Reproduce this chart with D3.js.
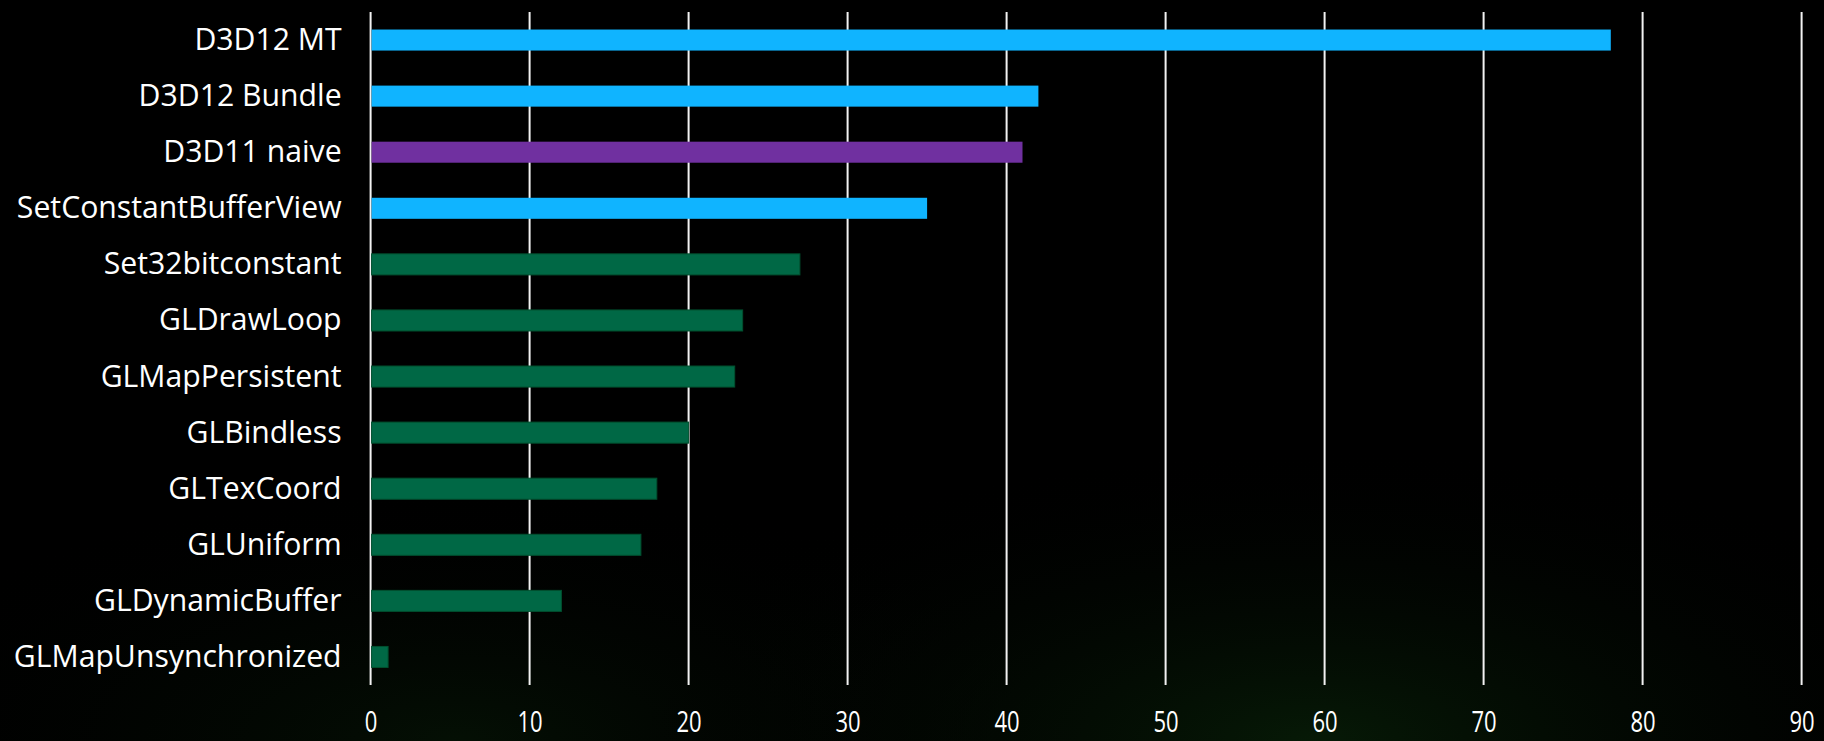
<!DOCTYPE html>
<html>
<head>
<meta charset="utf-8">
<script src="https://cdn.jsdelivr.net/npm/d3@7"></script>
<style>
  html, body { margin: 0; padding: 0; background: #000; }
  svg { display: block; }
</style>
</head>
<body>
<svg id="chart" width="1824" height="741"></svg>
<script>
const categories = ["D3D12 MT", "D3D12 Bundle", "D3D11 naive", "SetConstantBufferView",
  "Set32bitconstant", "GLDrawLoop", "GLMapPersistent", "GLBindless", "GLTexCoord",
  "GLUniform", "GLDynamicBuffer", "GLMapUnsynchronized"];
const values = [78, 42, 41, 35, 27, 23.4, 22.9, 20, 18, 17, 12, 1.1];
const groups = ["d3d12", "d3d12", "d3d11", "d3d12", "gl", "gl", "gl", "gl", "gl", "gl", "gl", "gl"];
const tickValues = [0, 10, 20, 30, 40, 50, 60, 70, 80, 90];

const groupColor = { d3d12: "#10b4ff", d3d11: "#7030a0", gl: "#006845" };
const groupStroke = { d3d12: "none", d3d11: "none", gl: "#00502f" };

const W = 1824, H = 741;
const margin = { left: 370.6, right: 22.4, top: 12, bottom: 56 };

const svg = d3.select("#chart");

// background with faint green glow at the bottom
const defs = svg.append("defs");
const g1 = defs.append("radialGradient").attr("id", "glow1")
  .attr("cx", "0.72").attr("cy", "1.0").attr("r", "0.4");
g1.append("stop").attr("offset", "0").attr("stop-color", "#082008").attr("stop-opacity", 0.8);
g1.append("stop").attr("offset", "1").attr("stop-color", "#000").attr("stop-opacity", 0);
const g2 = defs.append("radialGradient").attr("id", "glow2")
  .attr("cx", "0.25").attr("cy", "1.0").attr("r", "0.35");
g2.append("stop").attr("offset", "0").attr("stop-color", "#061606").attr("stop-opacity", 0.7);
g2.append("stop").attr("offset", "1").attr("stop-color", "#000").attr("stop-opacity", 0);

svg.append("rect").attr("width", W).attr("height", H).attr("fill", "#000");
svg.append("rect").attr("width", W).attr("height", H).attr("fill", "url(#glow2)");
svg.append("rect").attr("width", W).attr("height", H).attr("fill", "url(#glow1)");

const x = d3.scaleLinear().domain([0, 90]).range([margin.left, W - margin.right]);
const y = d3.scaleBand().domain(categories).range([margin.top, H - margin.bottom]).paddingInner(0.625).paddingOuter(0.3125);

// gridlines
svg.append("g").selectAll("line").data(tickValues).join("line")
  .attr("x1", d => x(d)).attr("x2", d => x(d))
  .attr("y1", margin.top).attr("y2", H - margin.bottom)
  .attr("stroke", "#f2f2f2").attr("stroke-width", 2);

// bars
svg.append("g").selectAll("rect").data(categories).join("rect")
  .attr("x", x(0) + 1)
  .attr("y", d => y(d))
  .attr("width", (d, i) => x(values[i]) - x(0) - 1)
  .attr("height", y.bandwidth())
  .attr("fill", (d, i) => groupColor[groups[i]])
  .attr("stroke", (d, i) => groupStroke[groups[i]])
  .attr("stroke-width", 1);

// category labels
const yAxis = d3.axisLeft(y).tickSize(0).tickPadding(29);
const ya = svg.append("g").attr("transform", `translate(${x(0)},0)`).call(yAxis);
ya.select(".domain").remove();
ya.selectAll("text")
  .attr("fill", "#ffffff")
  .attr("font-family", "'Open Sans', sans-serif")
  .attr("font-size", 30.2)
  .attr("dy", "0.33em");

// x tick labels (condensed digits)
const xAxis = d3.axisBottom(x).tickValues(tickValues).tickSize(0).tickPadding(0);
const xa = svg.append("g").attr("transform", `translate(0,${H - margin.bottom})`).call(xAxis);
xa.select(".domain").remove();
xa.selectAll("text")
  .attr("fill", "#ffffff")
  .attr("font-family", "'Open Sans', sans-serif")
  .attr("font-size", 29)
  .attr("dy", null)
  .attr("y", 47)
  .attr("transform", "scale(0.76,1)");
</script>
</body>
</html>
